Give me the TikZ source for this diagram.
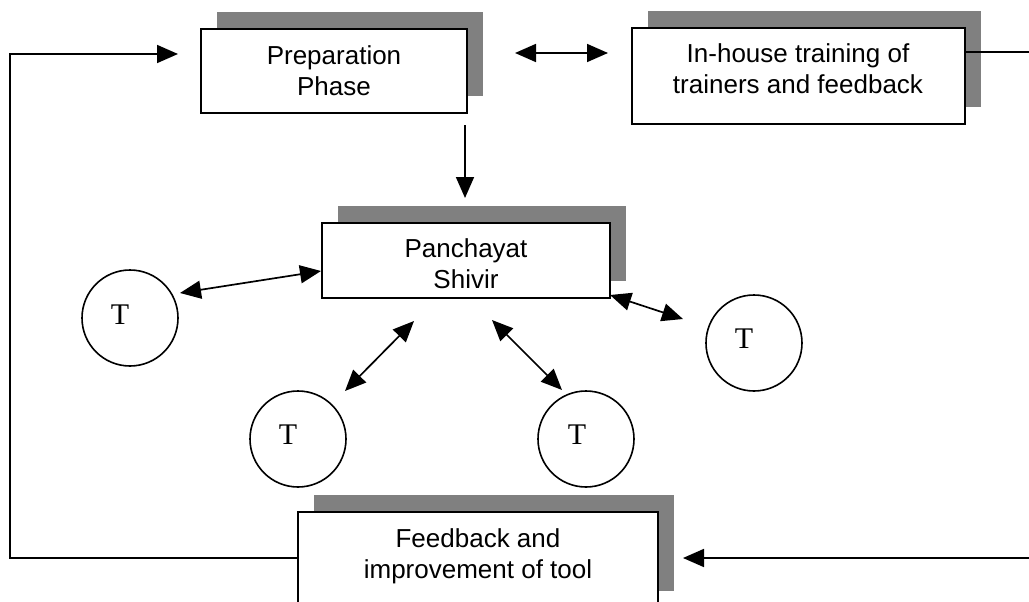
\documentclass[tikz,border=0pt]{standalone}
\usepackage{fontspec}
\setmainfont{Liberation Sans}
\newfontfamily\tms{Liberation Serif}
\usetikzlibrary{arrows.meta,shadows}
\definecolor{shadowgray}{RGB}{128,128,128}
\tikzset{
  boxnode/.style={draw=black, line width=1.6pt, fill=white, inner sep=0pt,
    general shadow={fill=shadowgray, shadow xshift=16pt, shadow yshift=17pt}},
  boxtext/.style={align=center, font=\fontsize{26}{31}\selectfont, inner sep=0pt},
  tnode/.style={draw=black, line width=1.6pt, circle, minimum size=96pt, inner sep=0pt},
  tlabel/.style={font=\tms\fontsize{30}{36}\selectfont, inner sep=0pt},
  conn/.style={line width=1.7pt},
  arr/.style={conn, -{Triangle[length=21pt,width=18pt]}},
  darr/.style={conn, {Triangle[length=21pt,width=18pt]}-{Triangle[length=21pt,width=18pt]}},
}
\begin{document}
\begin{tikzpicture}[x=1pt,y=-1pt]
\useasboundingbox (0,0) rectangle (1029,602);
% boxes
\node[boxnode, minimum width=266pt, minimum height=84pt] (prep) at (334,71) {};
\node[boxtext] (preptext) at (334,71) {Preparation\\Phase};
\node[boxnode, minimum width=333pt, minimum height=96pt] (inh) at (798.5,76) {};
\node[boxtext] (inhtext) at (798,69) {In-house training of\\trainers and feedback};
\node[boxnode, minimum width=288pt, minimum height=75pt] (pan) at (466,260.5) {};
\node[boxtext] (pantext) at (466,264) {Panchayat\\Shivir};
\node[boxnode, minimum width=360pt, minimum height=96pt] (fb) at (478,560) {};
\node[boxtext] (fbtext) at (478,556) {Feedback and\\improvement of tool};
% circles
\node[tnode] (t1) at (130,318) {};
\node[tlabel] (t1l) at (120,315) {T};
\node[tnode] (t2) at (298,439) {};
\node[tlabel] (t2l) at (288,435) {T};
\node[tnode] (t3) at (586,439) {};
\node[tlabel] (t3l) at (577,435) {T};
\node[tnode] (t4) at (754,343) {};
\node[tlabel] (t4l) at (744,339) {T};
% connector end points
\coordinate (loopL) at (10,558);
\coordinate (loopLtop) at (10,54);
\coordinate (prepin) at (178,54);
\coordinate (dA) at (515,53);
\coordinate (dB) at (608,53);
\coordinate (inhout) at (965,52);
\coordinate (loopRtop) at (1035,52);
\coordinate (loopRbot) at (1035,558);
\coordinate (fbin) at (683,558);
\coordinate (downA) at (465,125);
\coordinate (downB) at (465,198);
\coordinate (a1s) at (180,293);
\coordinate (a1e) at (321,271);
\coordinate (a2s) at (345,391);
\coordinate (a2e) at (414,321);
\coordinate (a3s) at (492,320);
\coordinate (a3e) at (562,390);
\coordinate (a4s) at (610,295);
\coordinate (a4e) at (683,319);
% connectors
\draw[arr] (fb.west |- loopL) -- (loopL) -- (loopLtop) -- (prepin);
\draw[darr] (dA) -- (dB);
\draw[arr] (inhout) -- (loopRtop) -- (loopRbot) -- (fbin);
\draw[arr] (downA) -- (downB);
\draw[darr] (a1s) -- (a1e);
\draw[darr] (a2s) -- (a2e);
\draw[darr] (a3s) -- (a3e);
\draw[darr] (a4s) -- (a4e);
\end{tikzpicture}
\end{document}
